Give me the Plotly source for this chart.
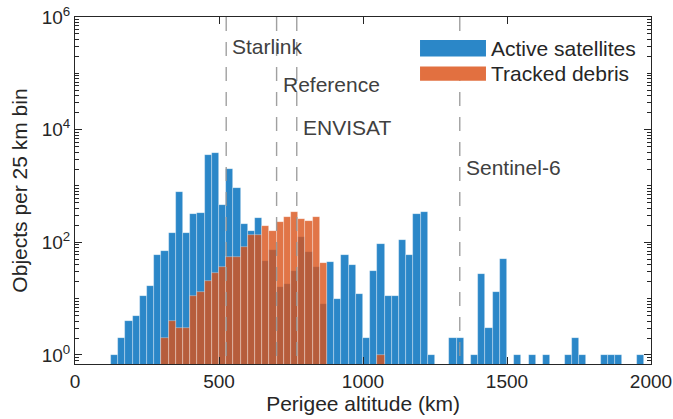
import plotly.graph_objects as go

# Histogram of perigee altitudes, 25 km bins (left bin edges in km)
BIN_WIDTH = 25

active_bins = [125, 150, 175, 200, 225, 250, 275, 300, 325, 350, 375, 400, 425,
               450, 475, 500, 525, 550, 575, 600, 625, 650, 675, 700, 725, 750,
               775, 800, 825, 850, 875, 900, 925, 950, 975, 1000, 1025, 1050,
               1075, 1100, 1125, 1150, 1175, 1200, 1225, 1300, 1325, 1375, 1400,
               1425, 1450, 1475, 1525, 1575, 1625, 1700, 1725, 1750, 1825, 1850,
               1875, 1950]
active_counts = [1, 2, 4, 5, 11, 17, 60, 69, 144, 780, 148, 315, 325,
                 3570, 3830, 455, 1990, 910, 213, 158, 265, 46, 72, 16, 18, 31,
                 125, 67, 37, 8, 45, 10, 59, 40, 12, 2, 31, 93,
                 11, 11, 112, 60, 320, 340, 1, 2, 2, 1, 27,
                 3, 13, 50, 1, 1, 1, 1, 2, 1, 1, 1,
                 1, 1]

debris_bins = [300, 325, 350, 375, 400, 425, 450, 475, 500, 525, 550, 575, 600,
               625, 650, 675, 700, 725, 750, 775, 800, 825, 850, 1050]
debris_counts = [2, 4, 3, 3, 11, 13, 21, 28, 37, 55, 55, 83, 134,
                 135, 194, 158, 229, 282, 340, 255, 241, 277, 43, 1]

# Reference orbits marked with dashed lines
ref_names = ["Starlink", "Reference", "ENVISAT", "Sentinel-6"]
ref_alt = [525, 700, 770, 1336]
ref_label_logy = [5.47, 4.81, 4.04, 3.33]

series_names = ["Active satellites", "Tracked debris"]

x_ticks = [0, 500, 1000, 1500, 2000]
y_tick_exp = [0, 2, 4, 6]

BLUE = "#2b87c8"
ORANGE = "rgba(217,83,25,0.8)"
ORANGE_KEY = "rgb(226,112,64)"
EDGE = "rgba(255,255,255,0.45)"
FONT = "Liberation Sans, Arial, Helvetica, sans-serif"
INK = "#262626"

fig = go.Figure()
fig.add_trace(go.Bar(
    x=[b + BIN_WIDTH / 2 for b in active_bins], y=active_counts,
    width=BIN_WIDTH, name=series_names[0],
    marker=dict(color=BLUE, line=dict(color=EDGE, width=0.7)),
    showlegend=False,
))
fig.add_trace(go.Bar(
    x=[b + BIN_WIDTH / 2 for b in debris_bins], y=debris_counts,
    width=BIN_WIDTH, name=series_names[1],
    marker=dict(color=ORANGE, line=dict(color=EDGE, width=0.7)),
    showlegend=False,
))

for name, alt, ly in zip(ref_names, ref_alt, ref_label_logy):
    fig.add_shape(type="line", xref="x", yref="paper", x0=alt, x1=alt, y0=1, y1=0,
                  line=dict(color="rgba(150,150,150,0.9)", width=1.4, dash="14px,11px"),
                  layer="above")
    fig.add_annotation(x=alt, y=ly, xref="x", yref="y", text=name, showarrow=False,
                       xanchor="left", yanchor="middle", xshift=4,
                       font=dict(family=FONT, size=21, color="#404040"))

# Legend key patches
key_rows = [(0.934, 0.886, BLUE), (0.857, 0.816, ORANGE_KEY)]
for (ytop, ybot, col), label in zip(key_rows, series_names):
    fig.add_shape(type="rect", xref="paper", yref="paper", x0=0.599, x1=0.7135,
                  y0=ybot, y1=ytop, fillcolor=col, line=dict(width=0), layer="above")
    fig.add_annotation(x=0.719, y=(ytop + ybot) / 2, xref="paper", yref="paper",
                       text=label, showarrow=False, xanchor="left", yanchor="middle",
                       font=dict(family=FONT, size=21, color=INK))

axis_common = dict(
    showline=True, linecolor=INK, linewidth=1, mirror="allticks",
    ticks="inside", ticklen=7, tickcolor=INK, showgrid=False, zeroline=False,
    tickfont=dict(family=FONT, size=19, color=INK),
)

fig.update_xaxes(
    range=[0, 2000], tickvals=x_ticks,
    title=dict(text="Perigee altitude (km)", font=dict(family=FONT, size=21, color=INK),
               standoff=0),
    **axis_common,
)
fig.update_yaxes(
    type="log", range=[-0.16, 6],
    tickvals=[10 ** e for e in y_tick_exp],
    ticktext=[f"10<sup>{e}</sup>" for e in y_tick_exp],
    minor=dict(ticks="inside", ticklen=4, tickcolor=INK, dtick="D1", showgrid=False),
    title=dict(text="Objects per 25 km bin", font=dict(family=FONT, size=21, color=INK),
               standoff=8),
    **axis_common,
)

fig.update_layout(
    width=673, height=419,
    margin=dict(l=75, r=22, t=17, b=55, autoexpand=False),
    barmode="overlay", bargap=0,
    plot_bgcolor="white", paper_bgcolor="white",
    font=dict(family=FONT, color=INK),
)

fig.write_html("out.html")
